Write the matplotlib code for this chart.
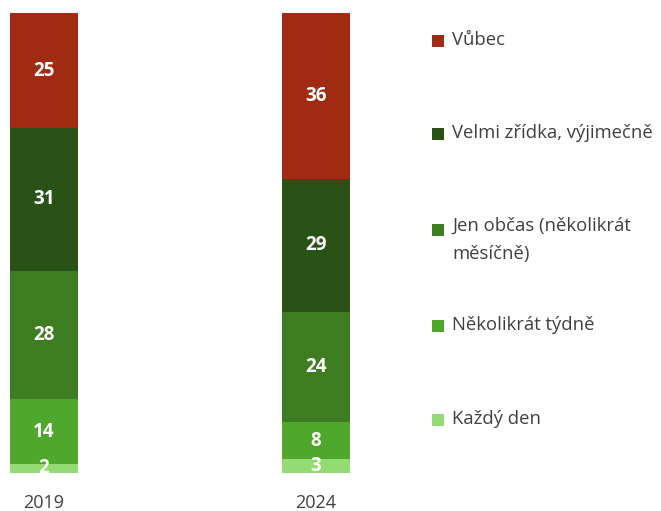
import matplotlib

matplotlib.use("Agg")
import matplotlib.pyplot as plt
from matplotlib.patches import Rectangle
import numpy as np

plt.rcParams["font.family"] = ["Open Sans", "DejaVu Sans"]

years = ["2019", "2024"]
categories = [
    "Každý den",
    "Několikrát týdně",
    "Jen občas (několikrát\nměsíčně)",
    "Velmi zřídka, výjimečně",
    "Vůbec",
]
values = {
    "Každý den": [2, 3],
    "Několikrát týdně": [14, 8],
    "Jen občas (několikrát\nměsíčně)": [28, 24],
    "Velmi zřídka, výjimečně": [31, 29],
    "Vůbec": [25, 36],
}
colors = ["#93dc74", "#4fa82b", "#3e7d22", "#2a5217", "#a12a12"]

W, H = 661, 511
fig = plt.figure(figsize=(W / 100, H / 100), dpi=100)
ax = fig.add_axes([0, (H - 473) / H, 360 / W, 460 / H])

x = np.arange(len(years))
bottom = np.zeros(len(years))
for cat, col in zip(categories, colors):
    vals = np.array(values[cat], dtype=float)
    bars = ax.bar(x, vals, bottom=bottom, width=0.25, color=col, linewidth=0)
    for bar, v, b in zip(bars, vals, bottom):
        t = ax.text(bar.get_x() + bar.get_width() / 2, b + v / 2, f"{int(v)}",
                    ha="center", va="center", color="white",
                    fontsize=13.5, fontweight="bold")
        t.set_clip_path(bar)
    bottom += vals

ax.set_xlim(-44 / 272, (360 - 44) / 272)
ax.set_ylim(0, 100)
ax.set_xticks(x)
ax.set_xticklabels(years, fontsize=13, color="#404040")
ax.tick_params(axis="x", length=0, pad=15)
ax.set_yticks([])
for s in ax.spines.values():
    s.set_visible(False)

# legend drawn by hand, top item first
legend_y = [40, 133, 229, 325, 419]
for cat, col, yy in zip(categories[::-1], colors[::-1], legend_y):
    fig.add_artist(Rectangle((432 / W, 1 - (yy + 7) / H), 12 / W, 12 / H,
                             transform=fig.transFigure, color=col, lw=0))
    if "\n" in cat:
        fig.text(452 / W, 1 - (yy - 12) / H, cat, ha="left", va="top",
                 fontsize=13.3, color="#404040", linespacing=1.75)
    else:
        fig.text(452 / W, 1 - yy / H, cat, ha="left", va="center",
                 fontsize=13.3, color="#404040")

fig.savefig("out.png", dpi=100)
